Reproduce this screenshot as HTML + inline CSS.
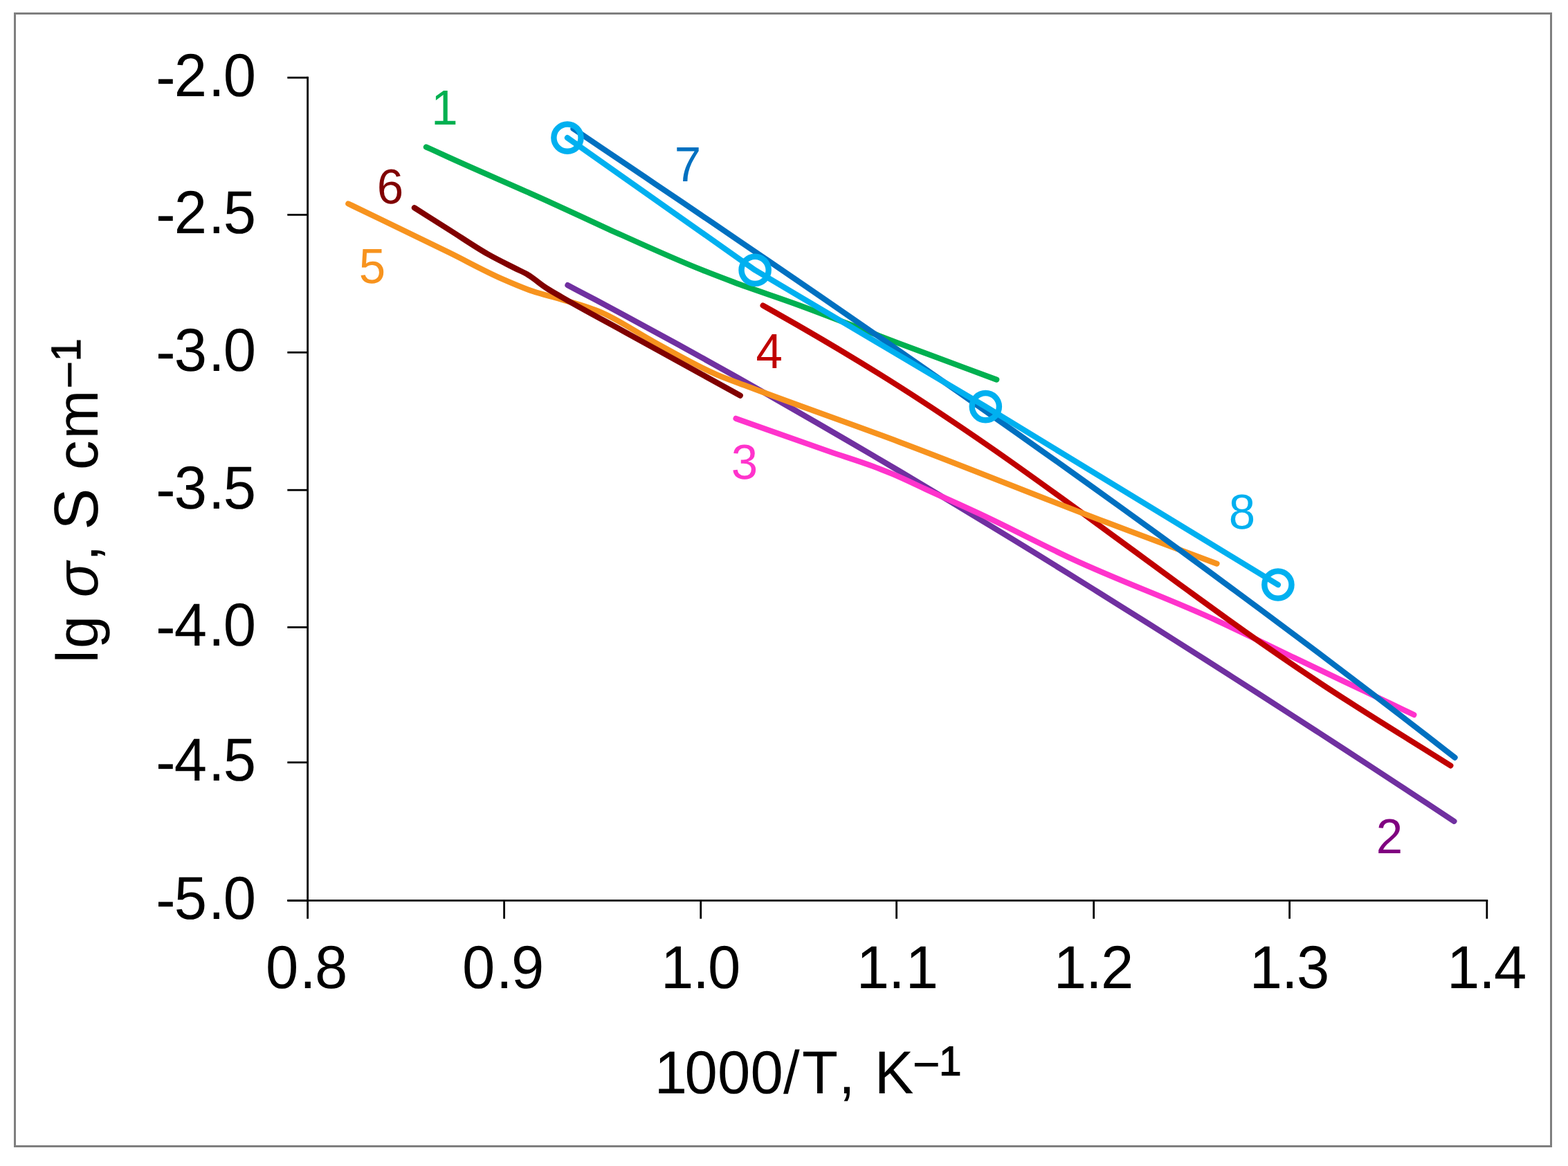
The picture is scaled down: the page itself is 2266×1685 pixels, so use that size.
<!DOCTYPE html>
<html lang="en"><head><meta charset="utf-8"><title>lg σ vs 1000/T</title>
<style>
html,body{margin:0;padding:0;background:#fff;}
body{width:2266px;height:1685px;overflow:hidden;}
svg{display:block;font-family:"Liberation Sans", sans-serif;font-kerning:none;font-variant-ligatures:none;text-rendering:geometricPrecision;}
.tick{font-size:85px;fill:#000;}
.title{font-size:85px;fill:#000;}
.lab{font-size:69px;}
.sup{stroke:#000;stroke-width:1.2px;}
.ln{fill:none;stroke-width:8.2;stroke-linecap:round;stroke-linejoin:round;}
</style></head><body>
<svg width="2266" height="1685" viewBox="0 0 2266 1685">
<rect x="0" y="0" width="2266" height="1685" fill="#fff"/>
<rect x="21.5" y="19.5" width="2220" height="1637" fill="none" stroke="#7f7f7f" stroke-width="3"/>
<g stroke="#000" stroke-width="2.8" fill="none">
<line x1="444.6" y1="110.8" x2="444.6" y2="1302.7"/>
<line x1="415.3" y1="1301.3" x2="2150.2" y2="1301.3"/>
<line x1="415.3" y1="112.2" x2="444.6" y2="112.2"/>
<line x1="415.3" y1="310.4" x2="444.6" y2="310.4"/>
<line x1="415.3" y1="509.3" x2="444.6" y2="509.3"/>
<line x1="415.3" y1="708.2" x2="444.6" y2="708.2"/>
<line x1="415.3" y1="906.5" x2="444.6" y2="906.5"/>
<line x1="415.3" y1="1101.8" x2="444.6" y2="1101.8"/>
<line x1="415.3" y1="1301.3" x2="444.6" y2="1301.3"/>
<line x1="444.6" y1="1301.3" x2="444.6" y2="1327.7"/>
<line x1="728.6" y1="1301.3" x2="728.6" y2="1327.7"/>
<line x1="1012.7" y1="1301.3" x2="1012.7" y2="1327.7"/>
<line x1="1295.6" y1="1301.3" x2="1295.6" y2="1327.7"/>
<line x1="1580.6" y1="1301.3" x2="1580.6" y2="1327.7"/>
<line x1="1863.6" y1="1301.3" x2="1863.6" y2="1327.7"/>
<line x1="2148.8" y1="1301.3" x2="2148.8" y2="1327.7"/>
</g>
<g class="tick">
<text transform="translate(0 138.8) scale(1 1.03)" x="225.13 251.84 300.91 322.73" y="2.3 0 0 0">-2.0</text>
<text transform="translate(0 337) scale(1 1.03)" x="225.13 251.84 300.91 322.73" y="2.3 0 0 0">-2.5</text>
<text transform="translate(0 535.9) scale(1 1.03)" x="225.13 251.84 300.91 322.73" y="2.3 0 0 0">-3.0</text>
<text transform="translate(0 734.8) scale(1 1.03)" x="225.13 251.84 300.91 322.73" y="2.3 0 0 0">-3.5</text>
<text transform="translate(0 933.1) scale(1 1.03)" x="225.13 251.84 300.91 322.73" y="2.3 0 0 0">-4.0</text>
<text transform="translate(0 1128.4) scale(1 1.03)" x="225.13 251.84 300.91 322.73" y="2.3 0 0 0">-4.5</text>
<text transform="translate(0 1327.9) scale(1 1.03)" x="225.13 251.84 300.91 322.73" y="2.3 0 0 0">-5.0</text>
<text transform="translate(0 1428.0) scale(1 1.03)" x="384.02 433.09 454.91" y="0 0 0">0.8</text>
<text transform="translate(0 1428.0) scale(1 1.03)" x="668.02 717.09 738.91" y="0 0 0">0.9</text>
<text transform="translate(0 1428.0) scale(1 1.03)" x="954.92 1001.19 1023.01" y="0 0 0">1.0</text>
<text transform="translate(0 1428.0) scale(1 1.03)" x="1237.82 1284.09 1308.71" y="0 0 0">1.1</text>
<text transform="translate(0 1428.0) scale(1 1.03)" x="1522.82 1569.09 1590.91" y="0 0 0">1.2</text>
<text transform="translate(0 1428.0) scale(1 1.03)" x="1805.82 1852.09 1873.91" y="0 0 0">1.3</text>
<text transform="translate(0 1428.0) scale(1 1.03)" x="2091.02 2137.29 2159.11" y="0 0 0">1.4</text>
</g>
<text class="title" transform="translate(0 1579.5) scale(1 1.03)" x="945.7 989.5 1037.1 1084.6 1132.1 1159 1212 1236 1263.7" y="0">1000/T, K<tspan class="sup" font-size="58.5" x="1322.6 1356.9" y="-24.76">–1</tspan></text>
<text class="title" transform="translate(140.6 958.3) rotate(-90)" x="0 21.2 68.3 95.1 147.1 170.3 192.5 258.3 279.4 323.8" y="0">lg <tspan font-style="italic">σ</tspan>, <tspan font-size="90">S</tspan> cm<tspan class="sup" font-size="59.8" x="400.1 435.8" y="-25">–1</tspan></text>
<path class="ln" stroke="#00b050" d="M615.9,212.4C627.27,217.6 638.63,222.83 650,228C696.67,249.22 743.33,268.85 790,290C820,303.6 850,317.88 880,331.4C925,351.67 970,372.42 1015,390.3C1030,396.26 1045,401.99 1060,407.6C1090,418.81 1120,428.41 1150,439.3C1200,457.46 1250,477.68 1300,496.5C1346.73,514.09 1393.47,531.23 1440.2,548.6"/>
<path class="ln" stroke="#7030a0" d="M820.4,412.1C833.74,419.15 847.09,426.15 860.43,433.24C873.77,440.33 887.12,447.47 900.46,454.64C913.81,461.82 927.15,469.03 940.49,476.29C953.84,483.55 967.18,490.84 980.52,498.18C993.87,505.52 1007.21,512.9 1020.56,520.31C1033.9,527.73 1047.24,535.18 1060.59,542.67C1073.93,550.16 1087.28,557.69 1100.62,565.26C1113.96,572.83 1127.31,580.43 1140.65,588.07C1153.99,595.71 1167.34,603.38 1180.68,611.09C1194.03,618.8 1207.37,626.55 1220.71,634.33C1234.06,642.1 1247.4,649.92 1260.74,657.76C1274.09,665.61 1287.43,673.49 1300.78,681.4C1314.12,689.31 1327.46,697.25 1340.81,705.22C1354.15,713.2 1367.49,721.2 1380.84,729.24C1394.18,737.27 1407.53,745.33 1420.87,753.43C1434.21,761.52 1447.56,769.65 1460.9,777.8C1474.24,785.95 1487.59,794.13 1500.93,802.33C1514.28,810.54 1527.62,818.78 1540.96,827.03C1554.31,835.29 1567.65,843.58 1580.99,851.89C1594.34,860.21 1607.68,868.54 1621.03,876.9C1634.37,885.27 1647.71,893.65 1661.06,902.06C1674.4,910.47 1687.74,918.9 1701.09,927.36C1714.43,935.81 1727.78,944.29 1741.12,952.79C1754.46,961.29 1767.81,969.81 1781.15,978.35C1794.49,986.89 1807.84,995.45 1821.18,1004.04C1834.53,1012.62 1847.87,1021.22 1861.21,1029.84C1874.56,1038.46 1887.9,1047.1 1901.24,1055.75C1914.59,1064.41 1927.93,1073.08 1941.28,1081.77C1954.62,1090.46 1967.96,1099.17 1981.31,1107.89C1994.65,1116.62 2007.99,1125.35 2021.34,1134.11C2034.68,1142.86 2048.03,1151.63 2061.37,1160.41C2074.71,1169.19 2088.06,1178 2101.4,1186.8"/>
<path class="ln" stroke="#ff33cc" d="M1063.5,604.8C1109,620.87 1154.5,637.38 1200,653C1220.67,660.09 1241.33,666.23 1262,674C1271.33,677.51 1280.67,681.11 1290,685C1306.67,691.95 1323.33,700.36 1340,708C1366.67,720.23 1393.33,732.01 1420,744.5C1463.33,764.8 1506.67,787.87 1550,808C1620,840.53 1690,865.22 1760,897.5C1796.83,914.49 1833.67,932.89 1870.5,950.5C1904.83,966.92 1939.17,983.23 1973.5,999.6C1996.77,1010.7 2020.03,1021.8 2043.3,1032.9"/>
<path class="ln" stroke="#c00000" d="M1102.6,441.5C1118.4,450.47 1134.2,459.3 1150,468.4C1200,497.21 1250,527.05 1300,558.9C1343.33,586.5 1386.67,615.6 1430,645.5C1475,676.55 1520,709.42 1565,742C1610.9,775.23 1656.8,809.65 1702.7,843C1734.47,866.08 1766.23,889.38 1798,911.8C1832,935.79 1866,959.23 1900,982C1965.43,1025.81 2030.87,1064.93 2096.3,1106.4"/>
<path class="ln" stroke="#f7931e" d="M503.3,294.4C552.2,318.07 601.1,341.3 650,365.4C675,377.72 700,391.72 725,402.7C740,409.29 755,415.78 770,420.9C783.33,425.45 796.67,428.28 810,432.3C829.67,438.23 849.33,443.09 869,451.5C894.33,462.33 919.67,480.26 945,494C975.33,510.45 1005.67,528.5 1036,541.5C1051.2,548.01 1066.4,553.14 1081.6,558.9C1154.4,586.48 1227.2,611.49 1300,638.8C1400,676.32 1500,717.27 1600,755.2C1652.83,775.24 1705.67,794.8 1758.5,814.6"/>
<path class="ln" stroke="#800000" d="M598.9,300.3C615.93,311.07 632.97,321.84 650,332.6C668.33,344.18 686.67,356.94 705,367.3C718.33,374.84 731.67,381.26 745,388C750.67,390.86 756.33,393.21 762,396.5C771.33,401.92 780.67,410.48 790,416.5C797.33,421.23 804.67,425.22 812,429.5C841.33,446.61 870.67,461.92 900,478.1C956.6,509.33 1013.2,540.43 1069.8,571.6"/>
<path class="ln" stroke="#0070c0" d="M828.5,186C841.77,194.93 855.04,203.86 868.31,212.8C881.58,221.74 894.85,230.69 908.12,239.64C921.4,248.6 934.67,257.56 947.94,266.53C961.21,275.5 974.48,284.48 987.75,293.46C1001.02,302.45 1014.29,311.45 1027.56,320.46C1040.83,329.47 1054.1,338.49 1067.38,347.52C1080.65,356.55 1093.92,365.6 1107.19,374.65C1120.46,383.71 1133.73,392.78 1147,401.86C1160.27,410.95 1173.54,420.04 1186.81,429.16C1200.08,438.27 1213.35,447.39 1226.62,456.54C1239.9,465.68 1253.17,474.84 1266.44,484.02C1279.71,493.2 1292.98,502.39 1306.25,511.6C1319.52,520.81 1332.79,530.04 1346.06,539.29C1359.33,548.54 1372.6,557.81 1385.88,567.1C1399.15,576.39 1412.42,585.7 1425.69,595.03C1438.96,604.36 1452.23,613.72 1465.5,623.09C1478.77,632.47 1492.04,641.87 1505.31,651.29C1518.58,660.71 1531.85,670.15 1545.12,679.62C1558.4,689.09 1571.67,698.59 1584.94,708.11C1598.21,717.63 1611.48,727.17 1624.75,736.75C1638.02,746.32 1651.29,755.92 1664.56,765.55C1677.83,775.18 1691.1,784.83 1704.38,794.51C1717.65,804.2 1730.92,813.91 1744.19,823.66C1757.46,833.4 1770.73,843.17 1784,852.98C1797.27,862.78 1810.54,872.62 1823.81,882.48C1837.08,892.35 1850.35,902.25 1863.62,912.18C1876.9,922.12 1890.17,932.08 1903.44,942.08C1916.71,952.09 1929.98,962.12 1943.25,972.19C1956.52,982.26 1969.79,992.37 1983.06,1002.51C1996.33,1012.65 2009.6,1022.83 2022.88,1033.04C2036.15,1043.26 2049.42,1053.51 2062.69,1063.81C2075.96,1074.1 2089.23,1084.47 2102.5,1094.8"/>
<path class="ln" stroke="#00b0f0" d="M819.95,199.1 L1091.1,390.3 L1424.3,587.6 L1846.9,845"/>
<circle cx="819.95" cy="199.1" r="19.6" fill="none" stroke="#00b0f0" stroke-width="8.4"/>
<circle cx="1091.1" cy="390.3" r="19.6" fill="none" stroke="#00b0f0" stroke-width="8.4"/>
<circle cx="1424.3" cy="587.6" r="19.6" fill="none" stroke="#00b0f0" stroke-width="8.4"/>
<circle cx="1846.9" cy="845.0" r="19.6" fill="none" stroke="#00b0f0" stroke-width="8.4"/>
<g class="lab">
<text transform="translate(642.4 179.8) scale(1 1.03)" fill="#00b050" text-anchor="middle">1</text>
<text transform="translate(2008 1233) scale(1 1.03)" fill="#800080" text-anchor="middle">2</text>
<text transform="translate(1076 692) scale(1 1.03)" fill="#ff33cc" text-anchor="middle">3</text>
<text transform="translate(1111.8 532.2) scale(1 1.03)" fill="#c00000" text-anchor="middle">4</text>
<text transform="translate(538 409) scale(1 1.03)" fill="#f7931e" text-anchor="middle">5</text>
<text transform="translate(564 294) scale(1 1.03)" fill="#800000" text-anchor="middle">6</text>
<text transform="translate(994 262) scale(1 1.03)" fill="#0070c0" text-anchor="middle">7</text>
<text transform="translate(1795 764) scale(1 1.03)" fill="#00b0f0" text-anchor="middle">8</text>
</g>
</svg></body></html>
